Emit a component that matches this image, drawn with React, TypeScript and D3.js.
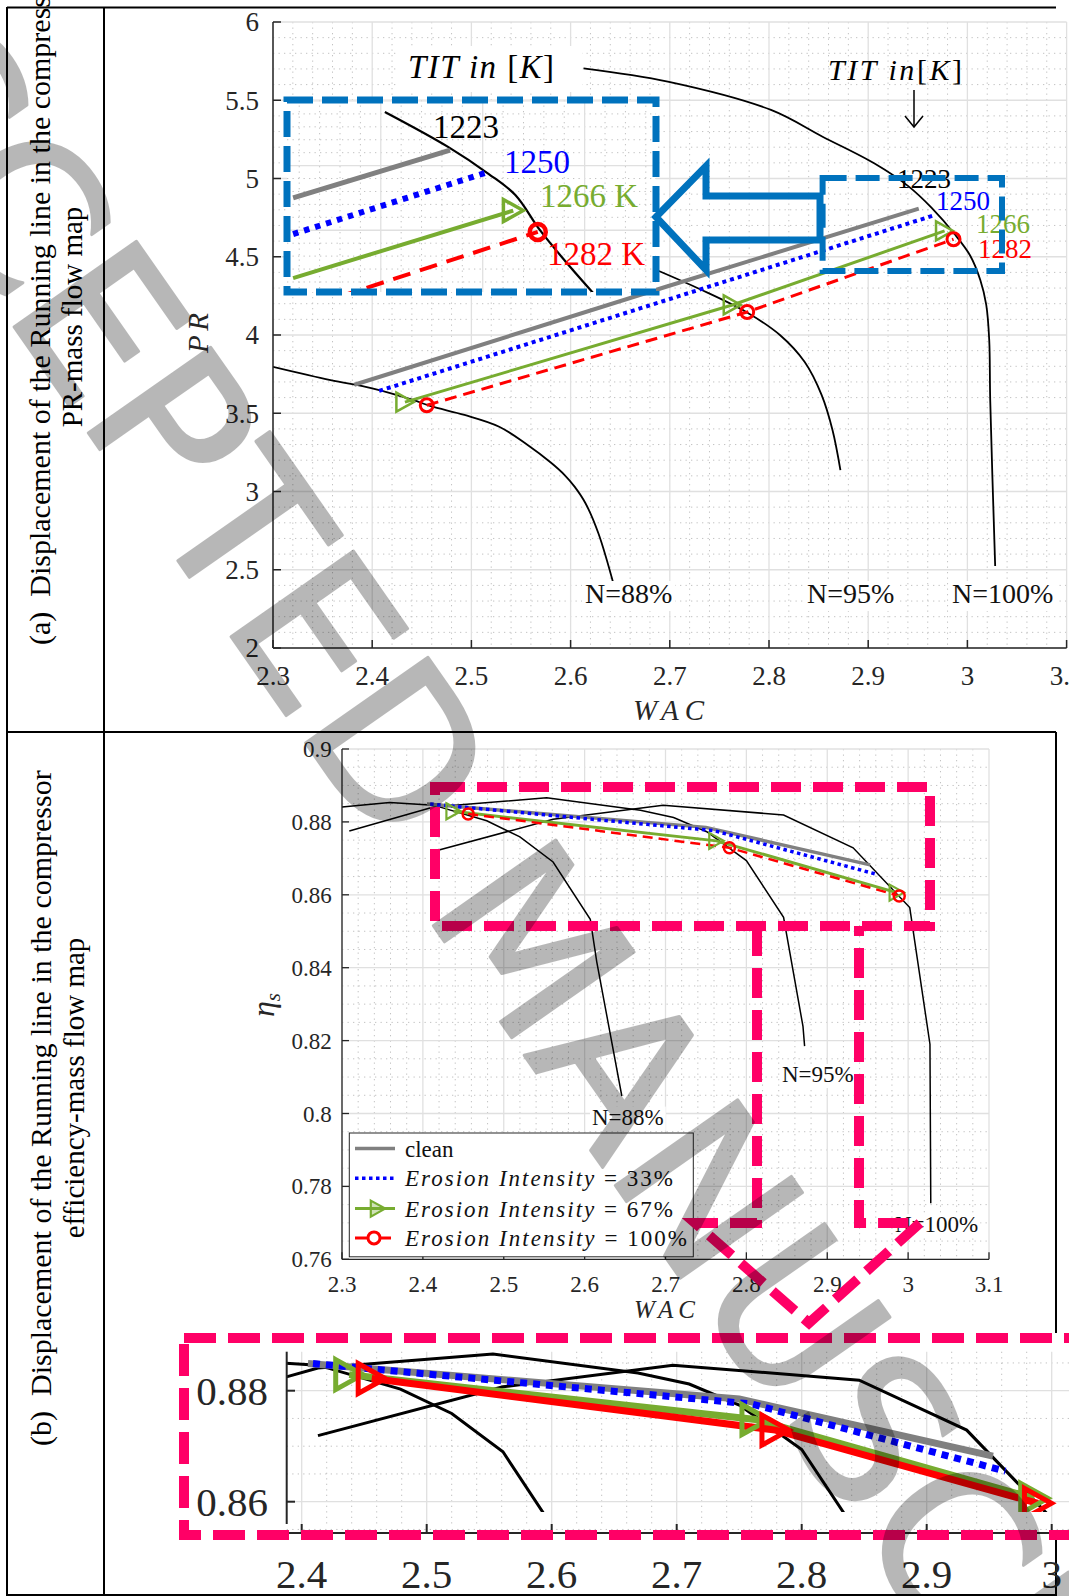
import React from 'react';
import * as d3 from 'd3';

type P = [number, number];

// ================= (a) PR – mass flow map =================
const prXTicks = [2.3, 2.4, 2.5, 2.6, 2.7, 2.8, 2.9, 3, 3.1];
const prYTicks = [2, 2.5, 3, 3.5, 4, 4.5, 5, 5.5, 6];
const speedNames = ['N=88%', 'N=95%', 'N=100%'];
const prN88: P[] = [
  [2.300, 3.797], [2.358, 3.712], [2.400, 3.659], [2.441, 3.585], [2.459, 3.545],
  [2.493, 3.489], [2.528, 3.414], [2.556, 3.300], [2.580, 3.185], [2.594, 3.105],
  [2.604, 3.031], [2.615, 2.925], [2.628, 2.733], [2.644, 2.392],
];
const prN95: P[] = [
  [2.689, 4.409], [2.730, 4.294], [2.777, 4.147], [2.811, 4.000], [2.836, 3.827],
  [2.853, 3.617], [2.864, 3.393], [2.872, 3.137],
];
const prN100: P[] = [
  [2.613, 5.704], [2.698, 5.619], [2.802, 5.438], [2.854, 5.267], [2.906, 5.097],
  [2.941, 4.948], [2.964, 4.812], [2.987, 4.645], [3.003, 4.505], [3.013, 4.351],
  [3.019, 4.192], [3.022, 3.968], [3.023, 3.585], [3.028, 2.524],
];
const prClean: P[] = [[2.382, 3.682], [2.697, 4.310], [2.951, 4.807]];
const prEro33: P[] = [[2.407, 3.643], [2.720, 4.270], [2.965, 4.762]];
const prEro67: P[] = [[2.433, 3.571], [2.763, 4.192], [2.977, 4.665]];
const prEro100: P[] = [[2.455, 3.551], [2.778, 4.147], [2.986, 4.612]];
const titValues = ['1223', '1250', '1266', '1282'];

// magnified inset of the (a) panel
const insetClean: P[] = [[2.857, 4.700], [2.934, 4.848]];
const insetEro33: P[] = [[2.857, 4.588], [2.951, 4.777]];
const insetEro67: P[] = [[2.857, 4.452], [2.965, 4.661]];
const insetEro100: P[] = [[2.880, 4.395], [2.977, 4.595]];
const insetN100: P[] = [
  [2.902, 4.966], [2.933, 4.858], [2.953, 4.774], [2.966, 4.709], [2.978, 4.601],
  [2.990, 4.508], [3.005, 4.400],
];

// ================= (b) efficiency – mass flow map =================
const etaXTicks = [2.3, 2.4, 2.5, 2.6, 2.7, 2.8, 2.9, 3, 3.1];
const etaYTicks = [0.76, 0.78, 0.8, 0.82, 0.84, 0.86, 0.88, 0.9];
const etaN88: P[] = [
  [2.300, 0.8841], [2.359, 0.8853], [2.413, 0.8846], [2.479, 0.8803], [2.520, 0.8759],
  [2.561, 0.8690], [2.607, 0.8533], [2.615, 0.8416], [2.646, 0.8048],
];
const etaN95: P[] = [
  [2.309, 0.8775], [2.413, 0.8841], [2.553, 0.8866], [2.669, 0.8832], [2.710, 0.8812],
  [2.751, 0.8773], [2.800, 0.8694], [2.846, 0.8538], [2.870, 0.8239], [2.872, 0.8185],
];
const etaN100: P[] = [
  [2.413, 0.8719], [2.561, 0.8807], [2.697, 0.8846], [2.846, 0.8819], [2.932, 0.8729],
  [3.002, 0.8565], [3.027, 0.8190], [3.028, 0.7754],
];
const etaClean: P[] = [[2.405, 0.8849], [2.750, 0.8785], [2.953, 0.8682]];
const etaEro33: P[] = [[2.409, 0.8849], [2.760, 0.8776], [2.963, 0.8655]];
const etaEro67: P[] = [[2.438, 0.8829], [2.763, 0.8748], [2.986, 0.8606]];
const etaEro100: P[] = [[2.456, 0.8822], [2.779, 0.8729], [2.989, 0.8597]];
const zoomXTicks = [2.4, 2.5, 2.6, 2.7, 2.8, 2.9, 3];
const zoomYTicks = [0.86, 0.88];
const legendClean = 'clean';
const legendErosion = 'Erosion Intensity';
const erosionLevels = ['33%', '67%', '100%'];

// ================= styling =================
const SERIF = "'Liberation Serif', 'Times New Roman', Times, serif";
const INK = '#262626';
const C_GRAY = '#808080';
const C_BLUE = '#0000ff';
const C_GREEN = '#77ac30';
const C_RED = '#ff0000';
const C_ANNOT = '#0072bd';
const C_PINK = '#ff0066';

const charW: Record<string, number> = { N: 0.722, '=': 0.564, '%': 0.833 };
const textW = (s: string, fs: number) => s.split('').reduce((a, c) => a + (charW[c] ?? 0.5), 0) * fs;

const triPath = (cx: number, cy: number, s: number) =>
  `M${cx - 0.45 * s},${cy - 0.5 * s}L${cx + 0.45 * s},${cy}L${cx - 0.45 * s},${cy + 0.5 * s}Z`;

const steps = (a: number, b: number, st: number) => d3.range(0, Math.round((b - a) / st) + 1).map((i) => a + i * st);

type Scale = d3.ScaleLinear<number, number>;

function Grid(props: {
  sx: Scale; sy: Scale; xMaj: number[]; yMaj: number[]; xMin: number[]; yMin: number[];
  x0: number; x1: number; y0: number; y1: number;
}) {
  const { sx, sy, xMaj, yMaj, xMin, yMin, x0, x1, y0, y1 } = props;
  const notMajor = (maj: number[]) => (v: number) => !maj.some((m) => Math.abs(m - v) < 1e-6);
  return (
    <g>
      {xMin.filter(notMajor(xMaj)).map((v, i) => (
        <line key={'xm' + i} x1={sx(v)} x2={sx(v)} y1={y0} y2={y1} stroke="#c2c2c2" strokeWidth={1} strokeDasharray="1.3 4.2" />
      ))}
      {yMin.filter(notMajor(yMaj)).map((v, i) => (
        <line key={'ym' + i} x1={x0} x2={x1} y1={sy(v)} y2={sy(v)} stroke="#c2c2c2" strokeWidth={1} strokeDasharray="1.3 4.2" />
      ))}
      {xMaj.map((v, i) => (
        <line key={'xM' + i} x1={sx(v)} x2={sx(v)} y1={y0} y2={y1} stroke="#e0e0e0" strokeWidth={1.3} />
      ))}
      {yMaj.map((v, i) => (
        <line key={'yM' + i} x1={x0} x2={x1} y1={sy(v)} y2={sy(v)} stroke="#e0e0e0" strokeWidth={1.3} />
      ))}
    </g>
  );
}

export default function App() {
  const W = 1069;
  const H = 1596;

  const xP = d3.scaleLinear().domain([2.3, 3.1]).range([273, 1066.6]);
  const yP = d3.scaleLinear().domain([2, 6]).range([648, 22]);
  const xI = d3.scaleLinear().domain([2.854, 3.035]).range([287, 656]);
  const yI = d3.scaleLinear().domain([4.409, 5.003]).range([292, 100]);
  const xE = d3.scaleLinear().domain([2.3, 3.1]).range([342, 989]);
  const yE = d3.scaleLinear().domain([0.76, 0.9]).range([1259.3, 749]);
  const xZ = d3.scaleLinear().domain([2.4, 3.0]).range([301.7, 1051.7]);
  const yZ = d3.scaleLinear().domain([0.86, 0.88]).range([1501.7, 1390.7]);

  const mkLine = (sx: Scale, sy: Scale, smooth = false) => {
    const l = d3.line<P>().x((d) => sx(d[0])).y((d) => sy(d[1]));
    return smooth ? l.curve(d3.curveCatmullRom.alpha(0.5)) : l;
  };
  const lP = mkLine(xP, yP);
  const cP = mkLine(xP, yP, true);
  const lI = mkLine(xI, yI);
  const cI = mkLine(xI, yI, true);
  const lE = mkLine(xE, yE);
  const lZ = mkLine(xZ, yZ);

  const topSpeed = [
    { name: speedNames[0], x: 585, y: 603 },
    { name: speedNames[1], x: 807, y: 603 },
    { name: speedNames[2], x: 952, y: 603 },
  ];
  const botSpeed = [
    { name: speedNames[0], x: 592, y: 1124.6 },
    { name: speedNames[1], x: 782, y: 1082 },
    { name: speedNames[2], x: 895, y: 1232 },
  ];

  const legendRows = [1148.6, 1178.2, 1208.6, 1237.9];

  return (
    <svg width={W} height={H} viewBox={`0 0 ${W} ${H}`}
      style={{ position: 'absolute', left: 0, top: 0, display: 'block', background: '#fff' }}
      fontFamily={SERIF}>
      <defs>
        <clipPath id="cTop"><rect x={273} y={22} width={796} height={626} /></clipPath>
        <clipPath id="cIn"><rect x={287} y={100} width={369} height={192} /></clipPath>
        <clipPath id="cBot"><rect x={342} y={749} width={647} height={510.3} /></clipPath>
        <clipPath id="cZoom"><rect x={286.7} y={1346} width={782.3} height={166} /></clipPath>
      </defs>
      <rect x={0} y={0} width={W} height={H} fill="#fff" />

      {/* ================= TOP PANEL ================= */}
      <Grid sx={xP} sy={yP} xMaj={prXTicks} yMaj={prYTicks}
        xMin={steps(2.3, 3.1, 0.02)} yMin={steps(2, 6, 0.1)} x0={273} x1={1066.6} y0={22} y1={648} />

      <g clipPath="url(#cTop)" fill="none">
        {[prN88, prN95, prN100].map((s, i) => (
          <path key={'nt' + i} d={cP(s) || ''} stroke="#000" strokeWidth={1.8} />
        ))}
        <path d={lP(prClean) || ''} stroke={C_GRAY} strokeWidth={4} />
        <path d={lP(prEro33) || ''} stroke={C_BLUE} strokeWidth={4} strokeDasharray="4 4" />
        <path d={lP(prEro67) || ''} stroke={C_GREEN} strokeWidth={3} />
        <path d={lP(prEro100) || ''} stroke={C_RED} strokeWidth={3} strokeDasharray="12 7" />
        {prEro67.map((d, i) => (
          <path key={'gt' + i} d={triPath(xP(d[0]), yP(d[1]), 19)} stroke={C_GREEN} strokeWidth={2.5} />
        ))}
        {prEro100.map((d, i) => (
          <circle key={'rc' + i} cx={xP(d[0])} cy={yP(d[1])} r={6.5} stroke={C_RED} strokeWidth={3} />
        ))}
      </g>

      {/* axes */}
      <g stroke={INK} strokeWidth={1.5}>
        <line x1={273} x2={273} y1={22} y2={648} />
        <line x1={273} x2={1066.6} y1={648} y2={648} />
        {prXTicks.map((t, i) => <line key={'xt' + i} x1={xP(t)} x2={xP(t)} y1={648} y2={640} />)}
        {prYTicks.map((t, i) => <line key={'yt' + i} x1={273} x2={281} y1={yP(t)} y2={yP(t)} />)}
      </g>
      <g fill={INK} fontSize={27}>
        {prXTicks.map((t, i) => (
          <text key={'xl' + i} x={xP(t)} y={685} textAnchor="middle">{String(t)}</text>
        ))}
        {prYTicks.map((t, i) => (
          <text key={'yl' + i} x={259} y={yP(t)} dy="0.35em" textAnchor="end">{String(t)}</text>
        ))}
      </g>
      <text transform="translate(208,333) rotate(-90)" textAnchor="middle" fontSize={29} fontStyle="italic"
        fill={INK} textLength={40} lengthAdjust="spacing">PR</text>
      <text x={633} y={720} fontSize={29} fontStyle="italic" fill={INK} textLength={71} lengthAdjust="spacing">WAC</text>

      {/* speed labels */}
      {topSpeed.map((s, i) => (
        <g key={'ts' + i}>
          <rect x={s.x - 3} y={s.y - 22} width={textW(s.name, 28) + 6} height={30} fill="#fff" />
          <text x={s.x} y={s.y} fontSize={28} fill="#111">{s.name}</text>
        </g>
      ))}

      {/* TIT labels in the main plot */}
      <rect x={398} y={46} width={184} height={46} fill="#fff" />
      <text x={408} y={78} fontSize={33} fill="#000" textLength={146} lengthAdjust="spacing">
        <tspan fontStyle="italic">TIT in </tspan><tspan>[</tspan><tspan fontStyle="italic">K</tspan><tspan>]</tspan>
      </text>
      <text x={828} y={80} fontSize={30} fill="#000" textLength={134} lengthAdjust="spacing">
        <tspan fontStyle="italic">TIT in</tspan><tspan>[</tspan><tspan fontStyle="italic">K</tspan><tspan>]</tspan>
      </text>
      <g stroke="#000" strokeWidth={1.5} fill="none">
        <line x1={914} x2={914} y1={90} y2={127} />
        <path d="M905,116 L914,127 L923,116" />
      </g>
      <text x={897} y={188} fontSize={27} fill="#000">{titValues[0]}</text>
      <text x={936} y={210} fontSize={27} fill={C_BLUE}>{titValues[1]}</text>
      <text x={976} y={233} fontSize={27} fill={C_GREEN}>{titValues[2]}</text>
      <text x={978} y={258} fontSize={27} fill={C_RED}>{titValues[3]}</text>

      {/* inset */}
      <rect x={287} y={100} width={369} height={192} fill="#fff" />
      <g clipPath="url(#cIn)">
        <Grid sx={xI} sy={yI} xMaj={[2.9, 2.95, 3.0]} yMaj={[4.6, 4.8, 5.0]}
          xMin={steps(2.85, 3.04, 0.01)} yMin={steps(4.4, 5.0, 0.04)} x0={287} x1={656} y0={100} y1={292} />
        <g fill="none">
          <path d={cI(insetN100) || ''} stroke="#000" strokeWidth={2.2} />
          <path d={lI(insetClean) || ''} stroke={C_GRAY} strokeWidth={5} />
          <path d={lI(insetEro33) || ''} stroke={C_BLUE} strokeWidth={6} strokeDasharray="5.5 6" />
          <path d={lI(insetEro67) || ''} stroke={C_GREEN} strokeWidth={4} />
          <path d={lI(insetEro100) || ''} stroke={C_RED} strokeWidth={4} strokeDasharray="18 10" />
          {insetEro67.slice(-1).map((d, i) => (
            <path key={'igt' + i} d={triPath(xI(d[0]), yI(d[1]), 22)} stroke={C_GREEN} strokeWidth={3.5} />
          ))}
          {insetEro100.slice(-1).map((d, i) => (
            <circle key={'irc' + i} cx={xI(d[0])} cy={yI(d[1])} r={8} stroke={C_RED} strokeWidth={4.5} />
          ))}
        </g>
      </g>
      <text x={433} y={138} fontSize={33} fill="#000">{titValues[0]}</text>
      <text x={504} y={173} fontSize={33} fill={C_BLUE}>{titValues[1]}</text>
      <text x={540} y={207} fontSize={33} fill={C_GREEN}>{titValues[2] + ' K'}</text>
      <text x={547} y={265} fontSize={33} fill={C_RED}>{titValues[3] + ' K'}</text>
      <rect x={287} y={100} width={369} height={192} fill="none" stroke={C_ANNOT} strokeWidth={7} strokeDasharray="26 9" />

      {/* small dashed box and arrow */}
      <rect x={822.6} y={178} width={179.4} height={93} fill="none" stroke={C_ANNOT} strokeWidth={6} strokeDasharray="24 9" />
      <path d="M656,217 L706,166 L706,196 L820,196 L820,240 L706,240 L706,270 Z" fill="none" stroke={C_ANNOT} strokeWidth={7} strokeLinejoin="miter" />

      {/* ================= BOTTOM PANEL ================= */}
      <Grid sx={xE} sy={yE} xMaj={etaXTicks} yMaj={etaYTicks}
        xMin={steps(2.3, 3.1, 0.02)} yMin={steps(0.76, 0.9, 0.005)} x0={342} x1={989} y0={749} y1={1259.3} />
      <g clipPath="url(#cBot)" fill="none">
        {[etaN88, etaN95, etaN100].map((s, i) => (
          <path key={'nb' + i} d={lE(s) || ''} stroke="#000" strokeWidth={1.5} />
        ))}
        <path d={lE(etaClean) || ''} stroke={C_GRAY} strokeWidth={3.5} />
        <path d={lE(etaEro33) || ''} stroke={C_BLUE} strokeWidth={3.5} strokeDasharray="3.5 3.5" />
        <path d={lE(etaEro67) || ''} stroke={C_GREEN} strokeWidth={3} />
        <path d={lE(etaEro100) || ''} stroke={C_RED} strokeWidth={2.5} strokeDasharray="10 6" />
        {etaEro67.map((d, i) => (
          <path key={'bgt' + i} d={triPath(xE(d[0]), yE(d[1]), 16)} stroke={C_GREEN} strokeWidth={2.2} />
        ))}
        {etaEro100.map((d, i) => (
          <circle key={'brc' + i} cx={xE(d[0])} cy={yE(d[1])} r={5.5} stroke={C_RED} strokeWidth={2.5} />
        ))}
      </g>
      <g stroke={INK} strokeWidth={1.3}>
        <line x1={342} x2={342} y1={749} y2={1259.3} />
        <line x1={342} x2={989} y1={1259.3} y2={1259.3} />
        {etaXTicks.map((t, i) => <line key={'bxt' + i} x1={xE(t)} x2={xE(t)} y1={1259.3} y2={1252.3} />)}
        {etaYTicks.map((t, i) => <line key={'byt' + i} x1={342} x2={349} y1={yE(t)} y2={yE(t)} />)}
      </g>
      <g fill={INK} fontSize={23}>
        {etaXTicks.map((t, i) => (
          <text key={'bxl' + i} x={xE(t)} y={1292} textAnchor="middle">{String(t)}</text>
        ))}
        {etaYTicks.map((t, i) => (
          <text key={'byl' + i} x={331.7} y={yE(t)} dy="0.35em" textAnchor="end">{String(t)}</text>
        ))}
      </g>
      <text x={634} y={1318} fontSize={25} fontStyle="italic" fill={INK} textLength={61} lengthAdjust="spacing">WAC</text>
      <text transform="translate(274,1005) rotate(-90)" textAnchor="middle" fontSize={32} fontStyle="italic" fill={INK}>
        η<tspan fontSize={21} dy={6}>s</tspan>
      </text>

      {botSpeed.map((s, i) => (
        <g key={'bs' + i}>
          <rect x={s.x - 2} y={s.y - 18} width={textW(s.name, 23) + 4} height={24} fill="#fff" />
          <text x={s.x} y={s.y} fontSize={23} fill="#111">{s.name}</text>
        </g>
      ))}

      {/* legend */}
      <rect x={349.3} y={1133} width={344} height={123.8} fill="#fff" stroke={INK} strokeWidth={1} />
      <g fill="none">
        <line x1={355} x2={395} y1={legendRows[0]} y2={legendRows[0]} stroke={C_GRAY} strokeWidth={3.5} />
        <line x1={355} x2={395} y1={legendRows[1]} y2={legendRows[1]} stroke={C_BLUE} strokeWidth={3.5} strokeDasharray="3.5 3.5" />
        <line x1={355} x2={395} y1={legendRows[2]} y2={legendRows[2]} stroke={C_GREEN} strokeWidth={3} />
        <path d={triPath(378, legendRows[2], 16)} stroke={C_GREEN} strokeWidth={2.2} fill={C_GREEN} fillOpacity={0.35} />
        <line x1={355} x2={391} y1={legendRows[3]} y2={legendRows[3]} stroke={C_RED} strokeWidth={3} />
        <circle cx={374} cy={legendRows[3]} r={6} stroke={C_RED} strokeWidth={3} fill="#fff" />
      </g>
      <g fontSize={23} fill="#111">
        <text x={405} y={legendRows[0] + 8}>{legendClean}</text>
        {erosionLevels.map((lv, i) => (
          <text key={'lg' + i} x={405} y={legendRows[i + 1] + 8} textLength={i === 2 ? 282 : 268} lengthAdjust="spacing">
            <tspan fontStyle="italic">{legendErosion}</tspan><tspan>{' = ' + lv}</tspan>
          </text>
        ))}
      </g>

      {/* pink annotations */}
      <g fill="none" stroke={C_PINK} strokeWidth={10} strokeDasharray="30 12">
        <rect x={435} y={787} width={495} height={139} />
        <path d="M757,926 V1223 H695 L809,1323 L920,1223 H859 V926" />
      </g>

      {/* ================= TABLE LINES & ROW TITLES ================= */}
      <g stroke="#000" strokeWidth={2}>
        <line x1={7} x2={7} y1={7} y2={1596} />
        <line x1={104} x2={104} y1={7} y2={1596} />
        <line x1={7} x2={1056} y1={7.5} y2={7.5} />
        <line x1={7} x2={1056} y1={732} y2={732} />
        <line x1={1056} x2={1056} y1={732} y2={1596} />
        <line x1={7} x2={1056} y1={1595} y2={1595} />
      </g>
      <g fontSize={30} fill="#000" style={{ whiteSpace: 'pre' }}>
        <text transform="translate(50,645) rotate(-90)">{'(a)\u00a0\u00a0Displacement of the Running line in the compressor'}</text>
        <text transform="translate(82,317) rotate(-90)" textAnchor="middle" fontSize={29}>PR-mass flow map</text>
        <text transform="translate(51,1446) rotate(-90)">{'(b)\u00a0\u00a0Displacement of the Running line in the compressor'}</text>
        <text transform="translate(84,1088) rotate(-90)" textAnchor="middle" fontSize={29}>efficiency-mass flow map</text>
      </g>

      {/* ================= MAGNIFIED EFFICIENCY VIEW ================= */}
      <rect x={180} y={1333} width={889} height={206} fill="#fff" />
      <Grid sx={xZ} sy={yZ} xMaj={zoomXTicks} yMaj={zoomYTicks}
        xMin={steps(2.4, 3.04, 0.02)} yMin={steps(0.855, 0.885, 0.005)} x0={286.7} x1={1069} y0={1351.7} y1={1524} />
      <g clipPath="url(#cZoom)" fill="none">
        {[etaN88, etaN95, etaN100].map((s, i) => (
          <path key={'nz' + i} d={lZ(s) || ''} stroke="#000" strokeWidth={3} />
        ))}
        <path d={lZ(etaClean) || ''} stroke={C_GRAY} strokeWidth={7} />
        <path d={lZ(etaEro33) || ''} stroke={C_BLUE} strokeWidth={7} strokeDasharray="7 6" />
        <path d={lZ(etaEro67) || ''} stroke={C_GREEN} strokeWidth={7} />
        <path d={lZ(etaEro100) || ''} stroke={C_RED} strokeWidth={7} />
        {etaEro67.map((d, i) => (
          <path key={'zgt' + i} d={triPath(xZ(d[0]), yZ(d[1]), 30)} stroke={C_GREEN} strokeWidth={5} />
        ))}
        {etaEro100.map((d, i) => (
          <path key={'zrt' + i} d={triPath(xZ(d[0]), yZ(d[1]), 30)} stroke={C_RED} strokeWidth={5} />
        ))}
      </g>
      <g stroke={INK} strokeWidth={2}>
        <line x1={286.7} x2={286.7} y1={1351.7} y2={1524} />
        <line x1={265} x2={1069} y1={1533} y2={1533} />
        {zoomXTicks.map((t, i) => <line key={'zxt' + i} x1={xZ(t)} x2={xZ(t)} y1={1533} y2={1524} />)}
        {zoomYTicks.map((t, i) => <line key={'zyt' + i} x1={286.7} x2={295} y1={yZ(t)} y2={yZ(t)} />)}
      </g>
      <g fill={INK} fontSize={41}>
        {zoomYTicks.map((t, i) => (
          <text key={'zyl' + i} x={268} y={yZ(t)} dy="0.36em" textAnchor="end">{String(t)}</text>
        ))}
        {zoomXTicks.map((t, i) => (
          <text key={'zxl' + i} x={xZ(t)} y={1588} textAnchor="middle">{String(t)}</text>
        ))}
      </g>
      <rect x={184} y={1338} width={900} height={197} fill="none" stroke={C_PINK} strokeWidth={10} strokeDasharray="32 12" />

      {/* ================= WATERMARK ================= */}
      <g opacity={0.28}>
        <text transform="translate(-240,-36) rotate(55)" fontFamily="'DejaVu Sans', sans-serif"
          fontSize={205} fill="#000" stroke="#000" strokeWidth={3} strokeLinejoin="round">
          ACCEPTED MANUSCRIPT
        </text>
      </g>
    </svg>
  );
}
